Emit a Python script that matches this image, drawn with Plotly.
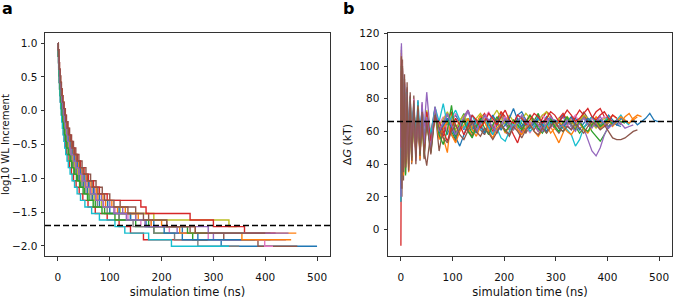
import plotly.graph_objects as go

colors = ["#1f77b4", "#ff7f0e", "#2ca02c", "#d62728", "#9467bd",
          "#8c564b", "#e377c2", "#7f7f7f", "#bcbd22", "#17becf"]

# ---------------- panel a: log10 WL increment (step levels) ----------------
wl_levels = [1.000, 0.903, 0.806, 0.709, 0.612, 0.515, 0.418, 0.321, 0.224, 0.127,
             0.031, -0.066, -0.163, -0.260, -0.357, -0.454, -0.551, -0.648, -0.745, -0.842,
             -0.939, -1.036, -1.133, -1.230, -1.327, -1.424, -1.521, -1.618, -1.715, -1.812,
             -1.909, -2.006]

wl_switch_times = [
    [0.5,1,1.5,2,3,3.5,4.5,5.5,6.5,8, 9.5,11,13,15,17.5,20,23,27,31,36, 42,49,57,67,80,100, 140,185,240,270,315],
    [0.6,1.2,1.7,2.3,3.5,4,5.2,6.3,7.5,9.2, 10.9,12.7,15,17.3,20,23,26.5,31,35.7,41.4, 48.3,56,65.5,77,92,115, 150,200,265],
    [0.5,0.9,1.4,1.8,2.7,3.2,4,5,5.9,7.2, 8.6,9.9,11.7,13.5,15.8,18,20.7,24.3,27.9,32.4, 37.8,44,51,60,72,90, 118,150,185,260],
    [0.4,0.7,1.1,1.4,2.2,2.5,3.2,4,4.7,5.8, 6.8,7.9,9.4,10.8,12.6,14.4,16.6,19.4,22.3,26, 30,35,41,48,58,72, 95,118,140,165],
    [0.6,1.3,1.9,2.5,3.8,4.4,5.6,6.9,8.1,10, 11.9,13.8,16.3,18.8,21.9,25,28.8,33.8,38.8,45, 52.5,61,71,84,100,125, 150,180,230,300],
    [0.8,1.5,2.3,3,4.5,5.3,6.8,8.3,9.8,12, 14.3,16.5,19.5,22.5,26.3,30,34.5,40.5,46.5,54, 63,73.5,85.5,100,120,150, 175,210,255,320,386],
    [0.6,1.1,1.7,2.2,3.3,3.9,5,6,7.2,8.8, 10.5,12.1,14.3,16.5,19.3,22,25.3,29.7,34,39.6, 46,54,63,74,88,110, 135,160,215,290,399],
    [0.5,1,1.4,1.9,2.9,3.3,4.3,5.2,6.2,7.6, 9,10.5,12.4,14.3,16.6,19,21.9,25.7,29.5,34.2, 40,46.5,54,64,76,95, 118,145,185,225,270],
    [0.5,1.1,1.6,2.1,3.2,3.7,4.7,5.8,6.8,8.4, 10,11.6,13.7,15.8,18.4,21,24.2,28.4,32.6,37.8, 44,51.5,60,70,84,120, 185,330],
    [0.3,0.7,1,1.3,2,2.3,2.9,3.6,4.2,5.2, 6.2,7.2,8.5,9.8,11.4,13,15,17.5,20,23.4, 27.3,32,37,43.5,52,65, 80,110,129,175,219],
    [0.6,1.2,1.8,2.4,3.6,4.2,5.4,6.6,7.8,9.6, 11.4,13.2,15.6,18,21,24,27.6,32.4,37.2,43.2, 50.4,58.8,68.4,80,96,118, 140,170,205,240],
    [0.7,1.3,2,2.6,3.9,4.6,5.9,7.2,8.5,10.4, 12.4,14.3,16.9,19.5,22.8,26,29.9,35.1,40.3,46.8, 54.6,63.7,74,87,104,130, 155,180,235,355],
    [0.4,0.9,1.3,1.7,2.6,3,3.8,4.7,5.5,6.8, 8,9.4,11,12.8,14.9,17,19.6,23,26.4,30.6, 35.7,41.7,48.5,57,68,85, 110,175,250],
    [0.7,1.4,2.1,2.8,4.2,4.9,6.3,7.7,9.1,11.2, 13.3,15.4,18.2,21,24.5,28,32.2,37.8,43.4,50.4, 58.8,68.6,80,95,160,170, 255,300,360],
    [0.5,1.1,1.6,2.3,3.2,3.8,4.9,6.1,7.1,8.7, 10.3,12.2,14.1,16.7,19,22.3,25,30,34.5,40, 46.5,53,62,73,87,108, 132,168,290],
    [0.7,1.4,2,2.7,4,4.7,6.1,7.4,8.8,10.8, 12.8,14.9,17.6,20.3,23.6,27,31,36.5,41.9,48.6, 56.7,66,77,90,108,135, 165,210,265],
]
wl_end_times = [500, 460, 410, 290, 440, 462, 415, 350, 345, 330, 380, 450, 410, 420, 445, 400]
wl_target = -1.7

# ---------------- panel b: Delta G traces ----------------
dg_time = [0, 1, 2, 3, 5, 7, 9, 12, 15, 18,
           21, 25, 29, 33, 37, 41, 45, 50, 58, 66,
           74, 82, 90, 98, 106, 114, 122, 130, 138, 146,
           154, 162, 170, 178, 186, 194, 202, 210, 218, 226,
           234, 242, 250, 258, 266, 274, 282, 290, 298, 306,
           314, 322, 330, 338, 346, 354, 362, 370, 378, 386,
           394, 402, 410, 418, 426, 434, 442, 450, 458, 466,
           474, 482, 490, 498]

dg_values = [
    [17, 96, 38, 88, 45, 84, 50, 80, 47, 75, 53, 74, 56, 70, 51, 71, 58, 66, 55, 72,
     60, 64, 58, 67, 70, 65, 61, 68, 63, 59, 64, 69, 66, 62, 67, 71, 68, 63, 65, 70,
     72, 67, 64, 66, 61, 65, 69, 66, 63, 67, 70, 66, 64, 68, 65, 62, 66, 69, 67, 64,
     66, 70, 67, 64, 68, 66, 65, 67, 64, 66, 68, 71, 67, 66],
    [30, 105, 45, 92, 35, 86, 42, 79, 36, 75, 44, 73, 48, 70, 46, 72, 52, 64, 50, 70,
     62, 56, 47, 71, 59, 64, 68, 62, 57, 65, 70, 66, 60, 63, 68, 72, 65, 61, 67, 63,
     59, 66, 70, 64, 60, 62, 67, 63, 58, 53, 59, 65, 68, 63, 66, 70, 67, 64, 69, 66,
     63, 67, 70, 68, 65, 69, 71, 67, 69],
    [28, 101, 32, 95, 40, 85, 38, 80, 45, 77, 42, 75, 46, 73, 49, 68, 44, 70, 48, 74,
     56, 63, 68, 60, 55, 66, 71, 64, 59, 62, 67, 70, 63, 58, 64, 69, 66, 61, 63, 68,
     65, 60, 62, 67, 71, 64, 59, 63, 66, 62, 60, 64, 67, 63, 59, 62, 65, 60, 57, 54,
     58, 63, 66],
    [-10, 88, 35, 99, 42, 90, 40, 82, 44, 79, 47, 76, 50, 72, 47, 76, 53, 70, 52, 75,
     62, 57, 67, 72, 64, 60, 69, 73, 66, 62, 68, 71, 65, 60, 67, 72, 69, 63, 58, 53,
     61, 66, 70, 67, 63, 68, 72, 70, 65, 68, 71, 67, 64, 69, 73, 70, 66, 68, 72, 74,
     69, 66, 70, 68],
    [60, 114, 50, 98, 44, 90, 48, 86, 42, 81, 50, 77, 46, 79, 52, 73, 62, 84, 55, 74,
     58, 66, 71, 63, 57, 62, 68, 72, 65, 60, 64, 69, 62, 58, 66, 70, 64, 61, 67, 63,
     59, 62, 66, 64, 60, 63, 68, 65, 62, 66, 69, 64, 61, 65, 67, 62, 55, 48, 45, 50,
     58, 63, 66, 64, 65, 62, 63, 64],
    [55, 110, 20, 104, 30, 95, 34, 90, 38, 84, 40, 82, 44, 78, 42, 76, 48, 39, 60, 73,
     48, 62, 67, 58, 54, 63, 66, 60, 57, 64, 61, 58, 65, 62, 59, 64, 60, 57, 63, 66,
     62, 59, 64, 61, 66, 63, 60, 65, 62, 59, 63, 67, 64, 61, 66, 72, 68, 63, 65, 67,
     64, 60, 56, 55, 55, 56, 58, 60, 61],
    [40, 102, 36, 94, 48, 87, 45, 82, 50, 78, 46, 80, 51, 74, 48, 77, 55, 70, 52, 73,
     64, 69, 60, 66, 71, 67, 62, 65, 70, 66, 63, 68, 72, 66, 61, 65, 69, 67, 64, 70,
     68, 63, 59, 64, 67, 70, 66, 62, 65, 68, 66, 63, 67, 70, 65, 62, 66, 68, 64, 67,
     69, 66, 64, 67, 65, 67],
    [45, 90, 30, 97, 52, 84, 46, 79, 54, 77, 49, 75, 54, 71, 50, 73, 56, 68, 54, 71,
     61, 65, 70, 64, 59, 63, 68, 66, 62, 67, 64, 60, 65, 69, 66, 62, 67, 64, 61, 66,
     69, 65, 63, 67, 64, 60, 65, 68, 66, 63, 65, 68, 64, 62, 66, 69, 65, 63, 67, 64,
     66, 63, 65, 67, 64],
    [35, 94, 44, 86, 37, 83, 50, 76, 43, 80, 51, 74, 47, 72, 53, 69, 50, 73, 57, 70,
     63, 68, 72, 66, 61, 67, 70, 65, 62, 68, 71, 67, 64, 69, 73, 68, 65, 70, 66, 63,
     67, 71, 68, 64, 66, 70, 72, 67, 64, 68, 65, 69, 66, 63, 67, 70, 68, 65, 62, 66,
     68, 65],
    [17, 99, 42, 90, 48, 88, 52, 84, 49, 80, 55, 77, 52, 79, 57, 74, 54, 71, 58, 75,
     66, 77, 64, 69, 73, 67, 62, 66, 70, 64, 61, 67, 63, 58, 62, 56, 54, 60, 65, 62,
     67, 64, 60, 63, 68, 65, 62, 66, 63, 60, 64, 61, 58, 51, 55, 62, 66, 69, 65, 62,
     66, 69, 64, 67, 70, 66, 64],
    [25, 92, 50, 85, 40, 81, 47, 77, 51, 73, 48, 75, 53, 69, 56, 74, 51, 67, 55, 70,
     59, 64, 68, 62, 57, 51, 58, 65, 61, 67, 63, 59, 66, 70, 65, 61, 64, 68, 74, 67,
     63, 66, 62, 65, 69, 64, 60, 63, 67, 65, 62, 66, 69, 64, 61, 65, 68, 66, 63, 67,
     65, 62, 66, 64, 63],
    [70, 108, 40, 90, 33, 84, 38, 78, 35, 76, 41, 72, 45, 75, 43, 70, 47, 68, 50, 72,
     55, 62, 66, 58, 53, 60, 64, 68, 61, 57, 63, 66, 60, 56, 62, 65, 59, 63, 67, 61,
     58, 62, 65, 60, 57, 61, 64, 59, 62, 66, 63, 60, 58, 62, 65, 61, 59, 63, 66, 62,
     64, 67, 63, 66, 69, 67, 65, 68, 70, 69],
    [30, 100, 50, 93, 46, 84, 33, 80, 40, 75, 44, 71, 49, 74, 46, 69, 52, 66, 47, 71,
     58, 52, 61, 76, 57, 62, 67, 60, 56, 63, 68, 62, 58, 64, 69, 65, 60, 63, 67, 64,
     61, 65, 70, 66, 62, 59, 64, 68, 63, 60, 65, 69, 63, 61, 66, 62, 60, 64, 67, 63,
     65, 68, 64, 67, 66, 65],
    [50, 97, 36, 89, 44, 83, 41, 77, 46, 74, 50, 71, 47, 73, 52, 69, 49, 72, 54, 68,
     66, 60, 54, 62, 68, 64, 58, 63, 70, 67, 62, 66, 71, 68, 64, 69, 73, 67, 65, 70,
     68, 64, 67, 71, 69, 65, 68, 72, 70, 66, 69, 73, 70, 66, 68, 71, 74, 69, 67, 70,
     72, 68, 66],
    [20, 112, 48, 95, 38, 89, 43, 83, 39, 78, 45, 76, 42, 72, 48, 78, 52, 69, 49, 75,
     60, 66, 71, 64, 58, 63, 69, 73, 66, 61, 65, 70, 67, 62, 60, 64, 68, 65, 61, 66,
     70, 66, 63, 67, 64, 60, 65, 69, 66, 62, 64, 67, 63, 60, 65, 68, 64, 62, 66, 69,
     65, 62, 64, 67, 65],
    [65, 106, 25, 100, 35, 92, 38, 87, 36, 82, 42, 79, 40, 76, 45, 72, 43, 66, 46, 70,
     62, 56, 53, 60, 64, 58, 55, 61, 66, 60, 57, 62, 59, 55, 60, 64, 61, 58, 63, 60,
     56, 61, 64, 60, 58, 62, 59, 63, 66, 62, 60, 63, 61, 65, 62, 59, 63, 66, 64, 61,
     63, 65],
]
dg_target = 66

FONT = "DejaVu Sans"
fig = go.Figure()

for i, sw in enumerate(wl_switch_times):
    xs = [0] + list(sw) + [wl_end_times[i]]
    ys = wl_levels[:len(sw) + 1] + [wl_levels[len(sw)]]
    fig.add_trace(go.Scatter(x=xs, y=ys, mode="lines", line_shape="hv",
                             line=dict(color=colors[i % 10], width=1.4),
                             xaxis="x", yaxis="y", showlegend=False))

for i, vals in enumerate(dg_values):
    fig.add_trace(go.Scatter(x=dg_time[:len(vals)], y=vals, mode="lines",
                             line=dict(color=colors[i % 10], width=1.3),
                             xaxis="x2", yaxis="y2", showlegend=False))

axis_common = dict(showline=True, mirror=True, linecolor="#333", linewidth=1,
                   ticks="outside", ticklen=3.5, tickwidth=1, tickcolor="#333",
                   showgrid=False, zeroline=False, automargin=False,
                   tickfont=dict(family=FONT, size=10.5, color="#111"))

xticks = [0, 100, 200, 300, 400, 500]
xtick_text = ["0", "100", "200", "300", "400", "500"]
a_yticks = [1.0, 0.5, 0.0, -0.5, -1.0, -1.5, -2.0]
a_ytick_text = ["1.0", "0.5", "0.0", "\u22120.5", "\u22121.0", "\u22121.5", "\u22122.0"]
b_yticks = [0, 20, 40, 60, 80, 100, 120]
b_ytick_text = ["0", "20", "40", "60", "80", "100", "120"]

fig.update_layout(
    width=675, height=300,
    margin=dict(l=0, r=0, t=0, b=0),
    paper_bgcolor="white", plot_bgcolor="white",
    font=dict(family=FONT, size=10, color="#111"),
    xaxis=dict(domain=[45/675, 330/675], range=[-25, 525], tickvals=xticks, ticktext=xtick_text,
               ticklabelstandoff=8,
               title=dict(text="simulation time (ns)", standoff=5, font=dict(size=11.5)),
               anchor="y", **axis_common),
    yaxis=dict(domain=[44/300, 267/300], range=[-2.15, 1.15], tickvals=a_yticks, ticktext=a_ytick_text,
               ticklabelstandoff=1,
               title=dict(text="log10 WL Increment", standoff=3, font=dict(size=10)),
               anchor="x", **axis_common),
    xaxis2=dict(domain=[388/675, 672/675], range=[-25, 525], tickvals=xticks, ticktext=xtick_text,
                ticklabelstandoff=8,
                title=dict(text="simulation time (ns)", standoff=5, font=dict(size=11.5)),
                anchor="y2", **axis_common),
    yaxis2=dict(domain=[44/300, 267/300], range=[-16.2, 120.2], tickvals=b_yticks, ticktext=b_ytick_text,
                ticklabelstandoff=2,
                title=dict(text="\u0394<i>G</i> (kT)", standoff=5, font=dict(size=11)),
                anchor="x2", **axis_common),
    shapes=[
        dict(type="line", xref="x domain", yref="y", x0=0, x1=1, y0=wl_target, y1=wl_target,
             line=dict(color="black", width=1.5, dash="6px,3px")),
        dict(type="line", xref="x2 domain", yref="y2", x0=0, x1=1, y0=dg_target, y1=dg_target,
             line=dict(color="black", width=1.5, dash="6px,3px")),
    ],
    annotations=[
        dict(text="<b>a</b>", x=0, y=1.01, xref="paper", yref="paper",
             xanchor="left", yanchor="top", showarrow=False, font=dict(family=FONT, size=16, color="black")),
        dict(text="<b>b</b>", x=341/675, y=1.01, xref="paper", yref="paper",
             xanchor="left", yanchor="top", showarrow=False, font=dict(family=FONT, size=16, color="black")),
    ],
)

fig.write_html("out.html", config={"displayModeBar": False},
               post_script="document.body.style.margin='0px';document.body.style.overflow='hidden';")
